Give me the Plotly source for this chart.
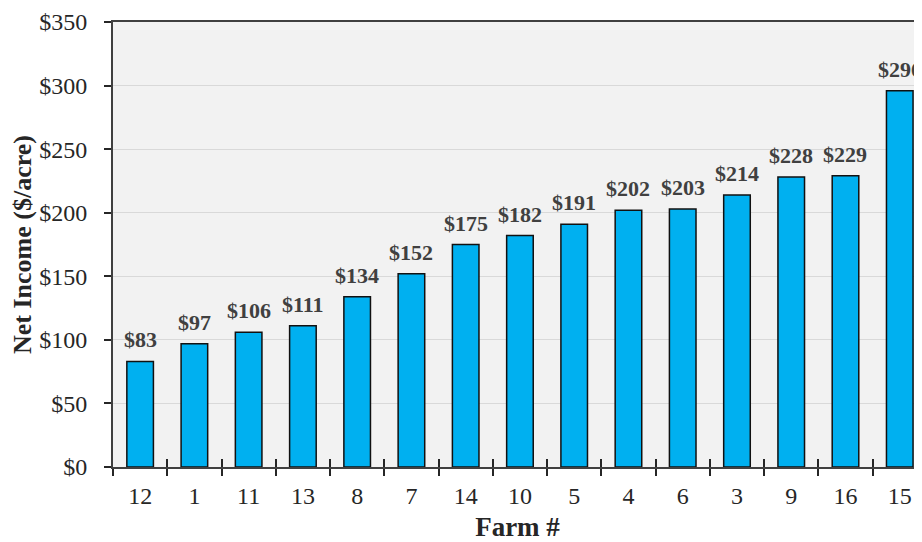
import plotly.graph_objects as go

# Net income per farm, sorted ascending
farms = ["12", "1", "11", "13", "8", "7", "14", "10", "5", "4", "6", "3", "9", "16", "15"]
net_income = [83, 97, 106, 111, 134, 152, 175, 182, 191, 202, 203, 214, 228, 229, 296]

y_ticks = [0, 50, 100, 150, 200, 250, 300, 350]
y_tick_labels = ["$" + str(v) for v in y_ticks]

FONT = "Liberation Serif, Times New Roman, serif"
X_RANGE = [-0.5, 14.41]

fig = go.Figure()

fig.add_trace(
    go.Bar(
        x=farms,
        y=net_income,
        marker=dict(color="#00B0F0", line=dict(color="#111111", width=1.5)),
        hovertemplate="Farm %{x}: $%{y}<extra></extra>",
    )
)

# invisible copy on a second x axis, only so its inward ticks get drawn
fig.add_trace(
    go.Bar(
        x=farms,
        y=net_income,
        xaxis="x2",
        opacity=0,
        marker=dict(color="rgba(0,0,0,0)", line=dict(width=0)),
        hoverinfo="skip",
        showlegend=False,
    )
)

# value labels above the bars (x given as category index)
for i, val in enumerate(net_income):
    fig.add_annotation(
        x=i,
        y=val,
        text="$" + str(val),
        showarrow=False,
        yanchor="bottom",
        yshift=7,
        font=dict(family=FONT, size=22, color="#404040", weight="bold"),
    )

fig.update_layout(
    width=914,
    height=534,
    margin=dict(l=105, r=0, t=14, b=75),
    paper_bgcolor="white",
    plot_bgcolor="#F2F2F2",
    bargap=0.51,
    barmode="overlay",
    showlegend=False,
    font=dict(family=FONT, color="#262626"),
    xaxis2=dict(
        type="category",
        overlaying="x",
        anchor="y",
        side="bottom",
        range=X_RANGE,
        tickson="boundaries",
        ticks="inside",
        ticklen=8,
        tickwidth=1.5,
        tickcolor="#262626",
        showticklabels=False,
        showgrid=False,
        showline=False,
    ),
)

fig.layout.xaxis.update(
    type="category",
    range=X_RANGE,
    tickson="boundaries",
    ticks="outside",
    ticklen=7,
    tickwidth=1.5,
    tickcolor="#262626",
    showline=True,
    linecolor="#404040",
    linewidth=2,
    mirror=True,
    showgrid=False,
    tickfont=dict(size=24, family=FONT),
    ticklabelstandoff=6,
    title=dict(text="Farm #", font=dict(size=27, family=FONT, weight="bold"), standoff=13),
)

fig.update_yaxes(
    range=[0, 350],
    tickvals=y_ticks,
    ticktext=y_tick_labels,
    ticks="outside",
    ticklen=7,
    tickwidth=1.5,
    tickcolor="#262626",
    showline=True,
    linecolor="#404040",
    linewidth=2,
    gridcolor="#D9D9D9",
    gridwidth=1,
    zeroline=False,
    tickfont=dict(size=24, family=FONT),
    ticklabelstandoff=12,
    title=dict(text="Net Income ($/acre)", font=dict(size=26, family=FONT, weight="bold"), standoff=8),
)

fig.write_html("out.html")
